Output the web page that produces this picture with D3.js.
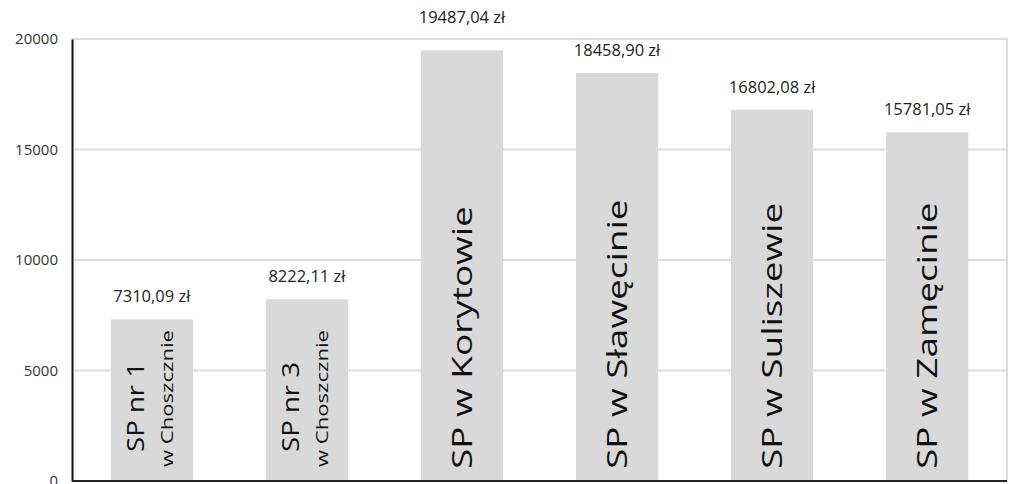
<!DOCTYPE html>
<html>
<head>
<meta charset="utf-8">
<script src="https://cdn.jsdelivr.net/npm/d3@7"></script>
<style>
  body { margin: 0; background: #fff; }
  text { font-family: "Open Sans", sans-serif; }
</style>
</head>
<body>
<div id="chart"></div>
<script>
// data
const schools = ["SP nr 1", "SP nr 3", "SP w Korytowie", "SP w Sławęcinie", "SP w Suliszewie", "SP w Zamęcinie"];
const subLabels = ["w Choszcznie", "w Choszcznie", "", "", "", ""];
const amounts = [7310.09, 8222.11, 19487.04, 18458.90, 16802.08, 15781.05];
const amountLabels = ["7310,09 zł", "8222,11 zł", "19487,04 zł", "18458,90 zł", "16802,08 zł", "15781,05 zł"];
const yTicks = [0, 5000, 10000, 15000, 20000];

const width = 1012;
const height = 484;
const margin = {left: 72, right: 5, top: 39, bottom: 3};

const data = schools.map((s, i) => ({name: s, sub: subLabels[i], value: amounts[i], label: amountLabels[i]}));

const svg = d3.select("#chart")
  .append("svg")
  .attr("width", width)
  .attr("height", height);

const xScale = d3.scaleBand()
  .domain(d3.range(data.length))
  .range([margin.left, width - margin.right])
  .paddingInner(0.47)
  .paddingOuter(0.25);

const yScale = d3.scaleLinear()
  .domain([0, 20000])
  .range([height - margin.bottom, margin.top]);

// gridlines
svg.append("g")
  .selectAll("line")
  .data(yTicks.slice(1))
  .enter()
  .append("line")
    .attr("x1", margin.left)
    .attr("x2", width - margin.right)
    .attr("y1", d => yScale(d))
    .attr("y2", d => yScale(d))
    .attr("stroke", "#dcdcdc")
    .attr("stroke-width", 2);

// right border
svg.append("line")
  .attr("x1", width - margin.right)
  .attr("x2", width - margin.right)
  .attr("y1", yScale(20000))
  .attr("y2", height - margin.bottom)
  .attr("stroke", "#dcdcdc")
  .attr("stroke-width", 2);

// bars
svg.selectAll("rect")
  .data(data)
  .enter()
  .append("rect")
    .attr("x", (d, i) => xScale(i))
    .attr("y", d => yScale(d.value))
    .attr("width", xScale.bandwidth())
    .attr("height", d => yScale(0) - yScale(d.value))
    .attr("fill", "#d9d9d9");

// y axis
const yAxis = svg.append("g")
  .attr("transform", `translate(${margin.left},0)`)
  .call(d3.axisLeft(yScale).tickValues(yTicks).tickFormat(d3.format("d")).tickSize(0).tickPadding(14));
yAxis.select(".domain").attr("stroke", "#111").attr("stroke-width", 2);
yAxis.selectAll("text").attr("font-size", "15px").attr("fill", "#333")
  .attr("font-family", "Open Sans, sans-serif");

// x axis line
svg.append("line")
  .attr("x1", margin.left)
  .attr("x2", width - margin.right)
  .attr("y1", yScale(0))
  .attr("y2", yScale(0))
  .attr("stroke", "#222")
  .attr("stroke-width", 2);

// value labels (the tallest one goes above the top gridline)
const labelY = function(d) {
  const y = yScale(d.value) - 17;
  return y < yScale(20000) + 8 ? yScale(20000) - 16 : y;
};

svg.selectAll(".val")
  .data(data)
  .enter()
  .append("text")
    .attr("class", "val")
    .attr("x", (d, i) => xScale(i) + xScale.bandwidth() / 2)
    .attr("y", labelY)
    .attr("text-anchor", "middle")
    .attr("font-size", "16.5px")
    .attr("fill", "#222")
    .text(d => d.label);

// names inside bars, read bottom to top, a bit stretched like the original
const names = svg.selectAll(".name")
  .data(data)
  .enter()
  .append("g")
    .attr("class", "name")
    .attr("transform", (d, i) => `translate(${xScale(i) + xScale.bandwidth() / 2},${yScale(0) - 12}) rotate(-90)`);

names.append("text")
  .attr("transform", d => d.sub ? "translate(17,-8) scale(1.15,1)" : "translate(0,10) scale(1.32,1)")
  .attr("font-size", d => d.sub ? "24px" : "28px")
  .attr("fill", "#111")
  .text(d => d.name);

names.filter(d => d.sub)
  .append("text")
  .attr("transform", "translate(2,21) scale(1.3,1)")
  .attr("font-size", "17px")
  .attr("fill", "#111")
  .text(d => d.sub);
</script>
</body>
</html>
